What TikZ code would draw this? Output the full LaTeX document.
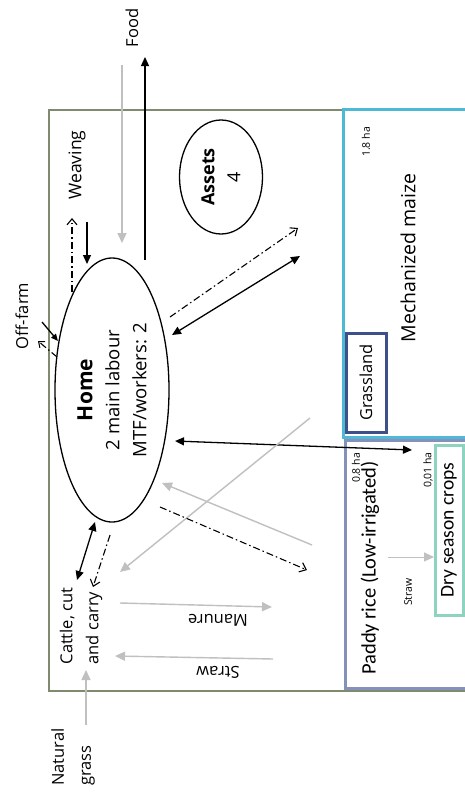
\documentclass[tikz,border=0pt]{standalone}
\usepackage{fontspec}
\setmainfont{Open Sans}
\newfontfamily\calib{Carlito}
\usetikzlibrary{arrows.meta,shapes.geometric}
\definecolor{framecol}{HTML}{7F8B6F}
\definecolor{maizecol}{HTML}{4DB9D5}
\definecolor{grasscol}{HTML}{3D5089}
\definecolor{paddycol}{HTML}{8591BA}
\definecolor{drycol}{HTML}{8ED2C0}
\definecolor{flowgray}{HTML}{C0C0C0}
\tikzset{
  fs/.style={font=\fontsize{#1}{#1}\selectfont},
  blk/.style={line width=1.3pt,-{Triangle[length=9pt,width=8pt]}},
  blkboth/.style={line width=1.3pt,{Triangle[length=9pt,width=8pt]}-{Triangle[length=9pt,width=8pt]}},
  gry/.style={draw=flowgray,line width=1.4pt,-{Triangle[length=10pt,width=9pt,fill=flowgray]}},
  dashdot/.style={line width=1.1pt,dash pattern=on 7pt off 3pt on 1.5pt off 3pt,-{Straight Barb[length=6pt,width=10pt,line width=1.1pt]}},
  fieldbox/.style={line width=3pt},
}
\begin{document}
\begin{tikzpicture}[x=1pt,y=-1pt]
\clip (0,0) rectangle (465,798);
\fill[white] (0,0) rectangle (465,798);
% frame
\draw[framecol,line width=1.5pt] (470,110) -- (49,110) -- (49,691) -- (470,691);
% fields
\draw[fieldbox,maizecol] (343,109) rectangle (475,437);
\draw[fieldbox,paddycol] (345,440) rectangle (475,688);
\node[draw=grasscol,fieldbox,rotate=90,minimum width=99pt,minimum height=40pt,inner sep=0pt,fs=16.5] (grassland) at (366,382.5) {Grassland};
\node[draw=drycol,fieldbox,rotate=90,minimum width=170pt,minimum height=28pt,inner sep=0pt,font=\calib\fontsize{19.5}{19.5}\selectfont] (dry) at (449,530) {Dry season crops};
\node[rotate=90,fs=19.5] (maize) at (408,258) {Mechanized maize};
\node[rotate=90,fs=10.5] (ha18) at (366,142) {1.8 ha};
\node[rotate=90,font=\calib\fontsize{20.5}{20.5}\selectfont] (paddy) at (370,568) {Paddy rice (Low-irrigated)};
\node[rotate=90,fs=10.5] (ha08) at (356,468) {0.8 ha};
\node[rotate=90,fs=10.5] (ha001) at (428,470) {0,01 ha};
\node[rotate=90,fs=10.5] (strawsmall) at (408,592) {Straw};
% home and assets
\node[draw,ellipse,line width=1.3pt,rotate=90,minimum width=264pt,minimum height=114pt,inner sep=0pt,align=center,font=\fontsize{18.5}{27}\selectfont] (home) at (112,390) {{\fontsize{21}{27}\selectfont\textbf{Home}}\\2 main labour\\MTF/workers: 2};
\node[draw,ellipse,line width=1.3pt,rotate=90,minimum width=114pt,minimum height=83pt,inner sep=0pt,align=center,font=\fontsize{18}{26}\selectfont] (assets) at (221,177) {\textbf{Assets}\\4};
% outer labels
\node[rotate=90,fs=16.5] (food) at (132,28) {Food};
\node[rotate=90,fs=17.5] (weaving) at (77,165) {Weaving};
\node[rotate=90,fs=16.5] (offfarm) at (22,316) {Off-farm};
\node[rotate=90,align=left,font=\fontsize{16.5}{26}\selectfont] (cattle) at (81,626) {Cattle, cut\\and carry};
\node[rotate=90,align=left,font=\fontsize{16.5}{27}\selectfont] (natgrass) at (73,757) {Natural\\grass};
\node[rotate=180,fs=16.5] (manure) at (218,620) {Manure};
\node[rotate=180,fs=16.5] (straw) at (218,672) {Straw};
% connector end points
\coordinate (foodA) at (145,260); \coordinate (foodB) at (145,57);
\coordinate (foodC) at (122,65);  \coordinate (foodD) at (122,243);
\coordinate (weaA) at (72,292);   \coordinate (weaB) at (72,218);
\coordinate (weaC) at (87,222);   \coordinate (weaD) at (87,264);
\coordinate (offA) at (42,322);   \coordinate (offB) at (58,341);
\coordinate (offC) at (57,357);   \coordinate (offD) at (38,341);
\coordinate (mzA) at (172,335);   \coordinate (mzB) at (300,256);
\coordinate (mzC) at (170,317);   \coordinate (mzD) at (298,228);
\coordinate (pdA) at (175,441);   \coordinate (pdB) at (412,450);
\coordinate (pdC) at (312,545);   \coordinate (pdD) at (162,483);
\coordinate (mzE) at (310,418);   \coordinate (ctA) at (120,572);
\coordinate (pdE) at (160,507);   \coordinate (pdF) at (307,570);
\coordinate (ctB) at (95,522);    \coordinate (ctC) at (77,580);
\coordinate (ctD) at (110,535);   \coordinate (ctE) at (93,587);
\coordinate (mnA) at (120,603);   \coordinate (mnB) at (272,607);
\coordinate (stA) at (273,659);   \coordinate (stB) at (115,656);
\coordinate (ngA) at (86,725);    \coordinate (ngB) at (86,670);
\coordinate (psA) at (388,557);   \coordinate (psB) at (434,557);
% connectors
\draw[blk] (foodA) -- (foodB);
\draw[gry] (foodC) -- (foodD);
\draw[dashdot] (weaA) -- (weaB);
\draw[blk] (weaC) -- (weaD);
\draw[blk,-{Triangle[length=7pt,width=6pt]}] (offA) -- (offB);
\draw[dashdot,-{Straight Barb[length=5pt,width=8pt,line width=1pt]}] (offC) -- (offD);
\draw[blkboth] (mzA) -- (mzB);
\draw[dashdot] (mzC) -- (mzD);
\draw[blkboth] (pdA) -- (pdB);
\draw[gry] (pdC) -- (pdD);
\draw[gry] (mzE) -- (ctA);
\draw[dashdot] (pdE) -- (pdF);
\draw[blkboth] (ctB) -- (ctC);
\draw[dashdot] (ctD) -- (ctE);
\draw[gry] (mnA) -- (mnB);
\draw[gry] (stA) -- (stB);
\draw[gry] (ngA) -- (ngB);
\draw[gry,line width=1pt] (psA) -- (psB);
\end{tikzpicture}
\end{document}
